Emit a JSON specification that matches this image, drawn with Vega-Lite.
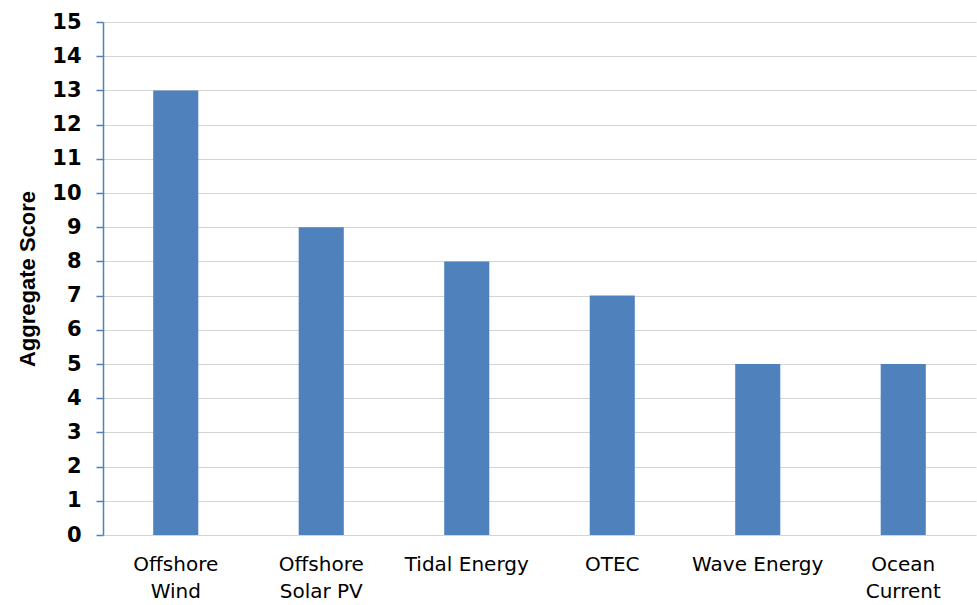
{
  "$schema": "https://vega.github.io/schema/vega-lite/v6.json",
  "width": 873,
  "height": 513,
  "autosize": {"type": "none"},
  "padding": {"left": 103, "top": 22, "right": 1, "bottom": 70},
  "background": "white",
  "data": {
    "values": [
      {"tech": "Offshore Wind", "score": 13},
      {"tech": "Offshore Solar PV", "score": 9},
      {"tech": "Tidal Energy", "score": 8},
      {"tech": "OTEC", "score": 7},
      {"tech": "Wave Energy", "score": 5},
      {"tech": "Ocean Current", "score": 5}
    ]
  },
  "mark": {"type": "bar", "color": "#4F81BD"},
  "encoding": {
    "x": {
      "field": "tech",
      "type": "nominal",
      "sort": null,
      "scale": {"paddingInner": 0.69, "paddingOuter": 0.345},
      "axis": {
        "title": null,
        "labelAngle": 0,
        "domain": false,
        "ticks": false,
        "labelPadding": 19,
        "labelFont": "DejaVu Sans",
        "labelFontSize": 20,
        "labelColor": "#000000",
        "labelLineHeight": 27,
        "labelExpr": "datum.label == 'Offshore Wind' ? ['Offshore', 'Wind'] : datum.label == 'Offshore Solar PV' ? ['Offshore', 'Solar PV'] : datum.label == 'Ocean Current' ? ['Ocean', 'Current'] : datum.label",
        "labelBaseline": "top"
      }
    },
    "y": {
      "field": "score",
      "type": "quantitative",
      "scale": {"domain": [0, 15], "nice": false},
      "axis": {
        "title": "Aggregate Score",
        "titleFont": "Liberation Sans",
        "titleFontSize": 22,
        "titleFontWeight": "bold",
        "titleColor": "#000000",
        "titlePadding": 12,
        "values": [0,1,2,3,4,5,6,7,8,9,10,11,12,13,14,15],
        "labelFont": "DejaVu Sans",
        "labelFontSize": 21,
        "labelFontWeight": "bold",
        "labelColor": "#000000",
        "labelPadding": 15,
        "domainColor": "#4F81BD",
        "domainWidth": 1.5,
        "tickColor": "#4F81BD",
        "tickWidth": 1.5,
        "tickSize": 7,
        "grid": true,
        "gridColor": "#D4D4D4",
        "gridWidth": 1
      }
    }
  },
  "config": {
    "view": {"stroke": null}
  }
}
